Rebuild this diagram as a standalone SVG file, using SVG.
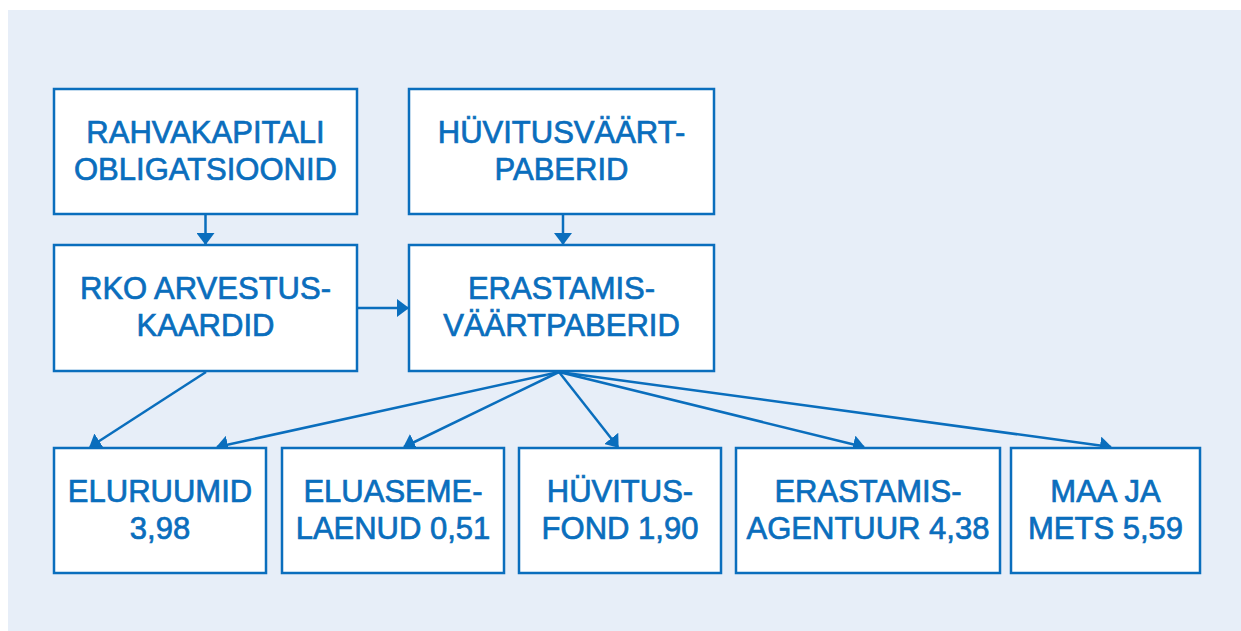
<svg xmlns="http://www.w3.org/2000/svg" width="1241" height="631" viewBox="0 0 1241 631">
  <defs>
    <style>
      .box { fill: #ffffff; stroke: #0a6ebd; stroke-width: 2.5; }
      .lbl { font-family: "Liberation Sans", Arial, sans-serif; font-size: 31px; font-weight: 400; fill: #0a6ebd; stroke: #0a6ebd; stroke-width: 0.7; text-anchor: middle; }
      .conn { stroke: #0a6ebd; stroke-width: 2.5; fill: none; marker-end: url(#arr); }
    </style>
    <marker id="arr" viewBox="0 0 12 18" refX="11" refY="9" markerWidth="12" markerHeight="18" markerUnits="userSpaceOnUse" orient="auto">
      <path d="M0,0 L12,9 L0,18 Z" fill="#0a6ebd"/>
    </marker>
  </defs>
  <rect x="0" y="0" width="1241" height="631" fill="#ffffff"/>
  <rect x="8" y="10" width="1233" height="621" fill="#e7eef8"/>

  <g id="connectors">
    <line class="conn" x1="205.5" y1="215" x2="205.5" y2="244"/>
    <line class="conn" x1="563" y1="215" x2="563" y2="244"/>
    <line class="conn" x1="358" y1="308" x2="408" y2="308"/>
    <line class="conn" x1="206" y1="372" x2="90" y2="447"/>
    <line class="conn" x1="559" y1="372" x2="217" y2="447"/>
    <line class="conn" x1="559" y1="372" x2="404" y2="447"/>
    <line class="conn" x1="559" y1="372" x2="618" y2="447"/>
    <line class="conn" x1="559" y1="372" x2="864" y2="447"/>
    <line class="conn" x1="559" y1="372" x2="1111" y2="447"/>
  </g>

  <g id="rahvakapitali">
    <rect class="box" x="54" y="89" width="303" height="125"/>
    <text class="lbl" x="205.5" y="143">RAHVAKAPITALI</text>
    <text class="lbl" x="205.5" y="180">OBLIGATSIOONID</text>
  </g>
  <g id="huvitusvaartpaberid">
    <rect class="box" x="409" y="89" width="305" height="125"/>
    <text class="lbl" x="561.5" y="143">HÜVITUSVÄÄRT-</text>
    <text class="lbl" x="561.5" y="180">PABERID</text>
  </g>
  <g id="rko">
    <rect class="box" x="54" y="245" width="303" height="126"/>
    <text class="lbl" x="205.5" y="299">RKO ARVESTUS-</text>
    <text class="lbl" x="205.5" y="336">KAARDID</text>
  </g>
  <g id="erastamisvaartpaberid">
    <rect class="box" x="409" y="245" width="305" height="126"/>
    <text class="lbl" x="561.5" y="299">ERASTAMIS-</text>
    <text class="lbl" x="561.5" y="336">VÄÄRTPABERID</text>
  </g>
  <g id="eluruumid">
    <rect class="box" x="54" y="448" width="212" height="125"/>
    <text class="lbl" x="160" y="502">ELURUUMID</text>
    <text class="lbl" x="160" y="539">3,98</text>
  </g>
  <g id="eluasemelaenud">
    <rect class="box" x="282" y="448" width="222" height="125"/>
    <text class="lbl" x="393" y="502">ELUASEME-</text>
    <text class="lbl" x="393" y="539">LAENUD 0,51</text>
  </g>
  <g id="huvitusfond">
    <rect class="box" x="519" y="448" width="202" height="125"/>
    <text class="lbl" x="620" y="502">HÜVITUS-</text>
    <text class="lbl" x="620" y="539">FOND 1,90</text>
  </g>
  <g id="erastamisagentuur">
    <rect class="box" x="736" y="448" width="264" height="125"/>
    <text class="lbl" x="868" y="502">ERASTAMIS-</text>
    <text class="lbl" x="868" y="539">AGENTUUR 4,38</text>
  </g>
  <g id="maajamets">
    <rect class="box" x="1011" y="448" width="189" height="125"/>
    <text class="lbl" x="1105.5" y="502">MAA JA</text>
    <text class="lbl" x="1105.5" y="539">METS 5,59</text>
  </g>
</svg>
